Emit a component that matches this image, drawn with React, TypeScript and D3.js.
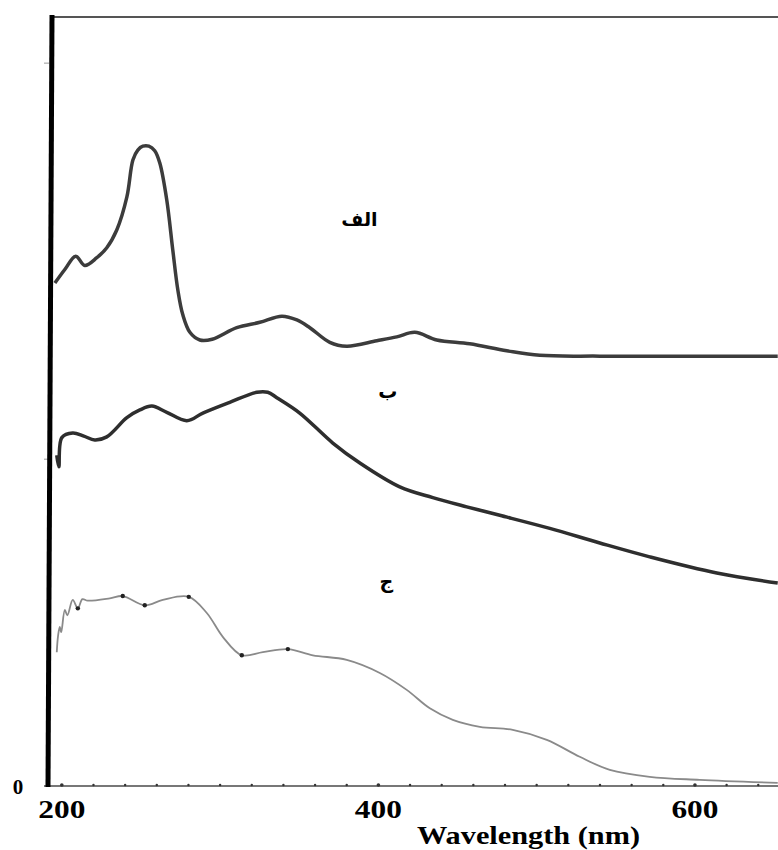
import React, { useRef, useEffect } from 'react';
import * as d3 from 'd3';

// curve "الف" : [wavelength nm, absorbance]
const seriesA: [number, number][] = [
  [195.6, 0.654], [202.0, 0.672], [208.8, 0.689], [214.5, 0.677], [222.1, 0.687],
  [228.4, 0.700], [234.7, 0.723], [241.1, 0.766], [244.9, 0.814], [248.0, 0.827],
  [251.2, 0.832], [255.0, 0.832], [258.7, 0.826], [261.9, 0.810], [266.3, 0.762],
  [270.1, 0.697], [273.3, 0.645], [276.4, 0.613], [280.9, 0.590], [287.2, 0.580],
  [295.0, 0.581], [310.5, 0.596], [325.1, 0.603], [339.0, 0.611], [348.5, 0.606],
  [356.7, 0.596], [369.3, 0.577], [380.0, 0.572], [399.0, 0.579], [411.6, 0.584],
  [423.0, 0.590], [436.9, 0.580], [457.7, 0.575], [481.1, 0.566], [502.0, 0.560],
  [539.9, 0.559], [603.0, 0.559], [652.3, 0.559]
];

// curve "ب"
const seriesB: [number, number][] = [
  [196.8, 0.430], [198.1, 0.415], [200.0, 0.453], [206.9, 0.459], [213.9, 0.455],
  [220.8, 0.450], [228.4, 0.454], [241.1, 0.479], [249.3, 0.489], [256.9, 0.494],
  [266.3, 0.486], [279.0, 0.475], [289.1, 0.485], [306.1, 0.499], [323.2, 0.512],
  [330.1, 0.512], [335.8, 0.505], [350.3, 0.485], [371.2, 0.446], [388.3, 0.420],
  [413.5, 0.389], [434.4, 0.375], [455.8, 0.363], [476.7, 0.352], [508.3, 0.335],
  [539.9, 0.316], [571.4, 0.298], [613.8, 0.277], [652.3, 0.264]
];

// curve "ج"
const seriesC: [number, number][] = [
  [196.8, 0.174], [197.6, 0.195], [198.7, 0.207], [199.6, 0.200], [201.9, 0.229],
  [203.5, 0.222], [206.9, 0.242], [210.1, 0.231], [213.0, 0.243], [216.4, 0.241],
  [230.3, 0.244], [238.5, 0.247], [252.4, 0.235], [263.8, 0.242], [280.2, 0.246],
  [291.6, 0.225], [301.7, 0.194], [313.7, 0.170], [327.0, 0.174], [342.8, 0.178],
  [358.6, 0.170], [380.0, 0.164], [400.9, 0.147], [417.9, 0.125], [432.5, 0.101],
  [447.0, 0.086], [464.1, 0.077], [484.9, 0.073], [506.4, 0.060], [527.2, 0.038],
  [546.2, 0.021], [571.4, 0.012], [603.0, 0.008], [652.3, 0.004]
];
const dotsC: [number, number][] = [
  [210.1, 0.231], [238.5, 0.247], [252.4, 0.235], [280.2, 0.246], [313.7, 0.170], [342.8, 0.178]
];

const xTicks = [200, 400, 600];
const minorTicks = d3.range(200, 660, 20);
const yTickMarks = [0.94, 0.425];

const labels = [
  { text: 'الف', nm: 388, v: 0.728 },
  { text: 'ب', nm: 406, v: 0.505 },
  { text: 'ج', nm: 405, v: 0.257 }
];

const App = () => {
  const svgRef = useRef<SVGSVGElement>(null);

  useEffect(() => {
    const width = 778;
    const height = 850;
    const svg = d3.select(svgRef.current);
    svg.selectAll('*').remove();
    svg.attr('viewBox', `0 0 ${width} ${height}`);

    const x = d3.scaleLinear().domain([190, 655]).range([46, 782]);
    const y = d3.scaleLinear().domain([0, 1]).range([786, 17]);

    // frame top
    svg.append('line')
      .attr('x1', 50).attr('x2', width).attr('y1', 17).attr('y2', 17)
      .attr('stroke', '#555').attr('stroke-width', 2);

    // bottom axis
    svg.append('line')
      .attr('x1', 44).attr('x2', width).attr('y1', y(0)).attr('y2', y(0))
      .attr('stroke', '#777').attr('stroke-width', 2);
    svg.append('g').selectAll('circle')
      .data(minorTicks)
      .join('circle')
      .attr('cx', (d) => x(d))
      .attr('cy', y(0) - 1)
      .attr('r', (d) => (d % 200 === 0 ? 1.8 : 1.2))
      .attr('fill', '#333');

    // faint y ticks
    svg.append('g').selectAll('line')
      .data(yTickMarks)
      .join('line')
      .attr('x1', 44).attr('x2', 49)
      .attr('y1', (d) => y(d)).attr('y2', (d) => y(d))
      .attr('stroke', '#999').attr('stroke-width', 1);

    // thick left axis
    svg.append('line')
      .attr('x1', 52).attr('x2', 48).attr('y1', 15).attr('y2', y(0) + 1)
      .attr('stroke', '#000').attr('stroke-width', 5);

    const line = d3.line<[number, number]>()
      .x((d) => x(d[0]))
      .y((d) => y(d[1]))
      .curve(d3.curveCatmullRom.alpha(0.5));

    svg.append('path').datum(seriesA)
      .attr('fill', 'none').attr('stroke', '#3c3c3c').attr('stroke-width', 3.5)
      .attr('stroke-linejoin', 'round').attr('d', line);
    svg.append('path').datum(seriesB)
      .attr('fill', 'none').attr('stroke', '#2e2e2e').attr('stroke-width', 3.5)
      .attr('stroke-linejoin', 'round').attr('d', line);
    svg.append('path').datum(seriesC)
      .attr('fill', 'none').attr('stroke', '#8a8a8a').attr('stroke-width', 1.8)
      .attr('stroke-linejoin', 'round').attr('d', line);
    svg.append('g').selectAll('circle')
      .data(dotsC)
      .join('circle')
      .attr('cx', (d) => x(d[0]))
      .attr('cy', (d) => y(d[1]))
      .attr('r', 2.2)
      .attr('fill', '#222');

    // tick labels
    svg.append('g').selectAll('text')
      .data(xTicks)
      .join('text')
      .attr('x', (d) => x(d))
      .attr('y', 818)
      .attr('text-anchor', 'middle')
      .attr('font-family', '"Liberation Serif", serif')
      .attr('font-weight', 'bold')
      .attr('font-size', 26)
      .attr('textLength', 47)
      .attr('lengthAdjust', 'spacingAndGlyphs')
      .text((d) => d);

    svg.append('text')
      .attr('x', 18).attr('y', 794)
      .attr('text-anchor', 'middle')
      .attr('font-family', '"Liberation Serif", serif')
      .attr('font-weight', 'bold')
      .attr('font-size', 21)
      .text('0');

    svg.append('text')
      .attr('x', 417).attr('y', 844)
      .attr('font-family', '"Liberation Serif", serif')
      .attr('font-weight', 'bold')
      .attr('font-size', 25)
      .attr('textLength', 223)
      .attr('lengthAdjust', 'spacingAndGlyphs')
      .text('Wavelength (nm)');

    svg.append('g').selectAll('text')
      .data(labels)
      .join('text')
      .attr('x', (d) => x(d.nm))
      .attr('y', (d) => y(d.v))
      .attr('text-anchor', 'middle')
      .attr('font-family', '"DejaVu Sans", sans-serif')
      .attr('font-weight', 'bold')
      .attr('font-size', 19)
      .attr('direction', 'rtl')
      .text((d) => d.text);
  }, []);

  return (
    <svg
      ref={svgRef}
      width={778}
      height={850}
      style={{ position: 'absolute', left: 0, top: 0, background: '#fff' }}
    />
  );
};

export default App;
